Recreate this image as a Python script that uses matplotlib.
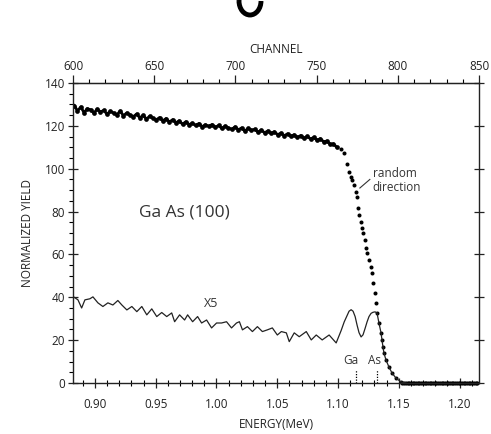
import numpy as np
import matplotlib
matplotlib.use("Agg")
import matplotlib.pyplot as plt
from matplotlib.patches import Arc
from matplotlib.ticker import MultipleLocator, FormatStrFormatter

# ---------------- data ----------------
# random direction spectrum, plateau region (every 2 channels, 0.883 .. 1.099 MeV)
random_plateau_yield = [
    129.5, 127.0, 128.8, 126.2, 128.0, 127.5, 126.0,
    127.8, 126.5, 127.2, 125.5, 126.8, 126.0,
    125.2, 126.9, 124.8, 126.0, 125.1, 124.3,
    125.5, 123.8, 124.9, 123.2, 124.5, 123.6,
    122.8, 123.9, 122.4, 123.4, 121.8, 122.9,
    121.5, 122.3, 120.8, 121.9, 120.6, 121.2,
    120.2, 121.1, 119.6, 120.5, 119.8, 120.6,
    119.3, 120.2, 118.8, 119.9, 119.0, 118.4,
    119.5, 118.2, 119.0, 117.6, 118.8, 117.9,
    118.4, 117.1, 118.0, 116.8, 117.6, 116.5,
    117.2, 115.9, 116.6, 115.4, 116.3, 115.2,
    115.8, 114.6, 115.5, 114.2, 115.1, 113.9,
    114.6, 113.3, 114.0, 112.6, 112.9, 111.4, 111.6, 110.0,
]
plateau_e_start, plateau_e_end = 0.883, 1.099

# random direction spectrum, edge region
random_edge_energy = [
    1.1025, 1.1050, 1.1075, 1.1091, 1.1108, 1.1116, 1.1132, 1.1149, 1.1157,
    1.1165, 1.1173, 1.1190, 1.1198, 1.1206, 1.1223, 1.1231, 1.1239, 1.1255,
    1.1272, 1.1280, 1.1288, 1.1305, 1.1313, 1.1321, 1.1337, 1.1354, 1.1362,
    1.1370, 1.1378, 1.1395, 1.1419, 1.1444, 1.1477, 1.1518,
]
random_edge_yield = [
    109.0, 107.5, 102.0, 98.6, 96.3, 94.9, 92.5, 89.3, 86.9,
    81.8, 78.5, 75.2, 72.4, 70.1, 66.8, 63.1, 60.7, 57.5,
    54.2, 51.4, 46.7, 42.1, 37.4, 32.7, 28.0, 23.4, 20.1,
    16.8, 14.0, 10.7, 7.5, 4.7, 2.3, 0.5,
]
# background region above the edge (zero yield)
zero_e_start, zero_e_end = 1.153, 1.215

# aligned <100> spectrum (x5)
aligned_energy = [
    0.8822, 0.8861, 0.8891, 0.8918, 0.8959, 0.8984, 0.9025, 0.9066, 0.9107,
    0.9148, 0.9189, 0.9222, 0.9263, 0.9304, 0.9345, 0.9386, 0.9427, 0.9468,
    0.9509, 0.9550, 0.9591, 0.9632, 0.9656, 0.9697, 0.9738, 0.9763, 0.9804,
    0.9845, 0.9878, 0.9919, 0.9960, 1.0001, 1.0042, 1.0083, 1.0124, 1.0165,
    1.0189, 1.0214, 1.0255, 1.0296, 1.0337, 1.0378, 1.0419, 1.0460, 1.0501,
    1.0534, 1.0575, 1.0599, 1.0640, 1.0681, 1.0739, 1.0780, 1.0821, 1.0870,
    1.0927, 1.0985, 1.1026, 1.1051, 1.1075, 1.1091, 1.1108, 1.1124, 1.1141,
    1.1157, 1.1173, 1.1190, 1.1206, 1.1223, 1.1239, 1.1255, 1.1272, 1.1288,
    1.1305, 1.1321, 1.1337, 1.1354, 1.1362, 1.1370, 1.1378, 1.1395, 1.1419,
    1.1444, 1.1477, 1.1518, 1.1560,
]
aligned_yield = [
    40.3, 38.8, 35.0, 38.8, 39.3, 40.2, 37.4, 35.7, 37.4,
    36.4, 38.5, 36.4, 34.1, 35.7, 33.3, 35.7, 31.8, 34.6,
    31.0, 32.9, 31.0, 32.7, 28.6, 31.8, 29.4, 31.8, 28.6,
    31.0, 28.0, 29.4, 25.7, 28.0, 28.0, 28.6, 25.7, 28.0,
    28.6, 24.8, 26.3, 24.0, 26.3, 24.0, 24.8, 25.7, 22.4,
    24.0, 23.4, 19.3, 23.4, 21.6, 24.0, 20.1, 22.4, 20.1,
    22.4, 18.7, 24.5, 28.5, 31.5, 33.5, 34.2, 33.5, 31.0,
    27.0, 23.5, 21.5, 22.5, 25.5, 28.5, 31.0, 32.5, 33.0,
    33.2, 32.7, 28.0, 23.4, 20.1, 16.8, 14.0, 10.7, 7.5,
    4.7, 2.3, 0.5, 0.0,
]

x_ticks_energy = [0.90, 0.95, 1.00, 1.05, 1.10, 1.15, 1.20]
y_ticks = [0, 20, 40, 60, 80, 100, 120, 140]
channel_ticks = [600, 650, 700, 750, 800, 850]
marker_energies = {"Ga": 1.1149, "As": 1.1320}
marker_label_energies = {"Ga": 1.1110, "As": 1.1300}

E_MIN, E_MAX = 0.882, 1.216
CH_MIN, CH_MAX = 600, 850

# ---------------- figure ----------------
plt.rcParams["font.family"] = ["Open Sans", "DejaVu Sans"]
fig = plt.figure(figsize=(4.91, 4.34), dpi=100)
ax = fig.add_axes([73 / 491, 51 / 434, 406 / 491, 300 / 434])

plateau_e = np.linspace(plateau_e_start, plateau_e_end, len(random_plateau_yield))
zero_e = np.arange(zero_e_start, zero_e_end, 0.0014)

ax.plot(plateau_e, random_plateau_yield, "-o", color="black", lw=2.0, ms=3.4, mew=0)
ax.plot(random_edge_energy, random_edge_yield, "o", color="black", ms=2.9, mew=0)
ax.plot(zero_e, np.zeros_like(zero_e), "o", color="black", ms=3.0, mew=0, clip_on=False)
ax.plot(aligned_energy, aligned_yield, "-", color="#222222", lw=0.9)

for name, e in marker_energies.items():
    ax.plot([e, e], [0, 6], ls=(0, (1, 1.2)), color="black", lw=0.9)
    ax.text(marker_label_energies[name], 7.5, name, ha="center", va="bottom",
            fontsize=8.5, color="#333333")

ax.text(0.974, 79.5, "Ga As (100)", fontsize=12.5, ha="center", va="center", color="#333333")
ax.text(0.9955, 37.0, "X5", fontsize=9, ha="center", va="center", color="#333333")
ax.text(1.1285, 94.5, "random\ndirection", fontsize=8.5, ha="left", va="center",
        color="#333333", linespacing=1.05)
ax.plot([1.1180, 1.1262], [91.0, 95.0], color="#333333", lw=0.8)

ax.set_xlim(E_MIN, E_MAX)
ax.set_ylim(0, 140)
ax.set_xticks(x_ticks_energy)
ax.xaxis.set_major_formatter(FormatStrFormatter("%.2f"))
ax.xaxis.set_minor_locator(MultipleLocator(0.01))
ax.set_yticks(y_ticks)
ax.yaxis.set_minor_locator(MultipleLocator(5))
ax.tick_params(axis="x", which="major", direction="inout", length=7, width=0.9,
               labelsize=8.5, pad=7, colors="#222222")
ax.tick_params(axis="x", which="minor", direction="inout", length=4, width=0.8)
ax.tick_params(axis="y", which="major", direction="inout", length=7, width=0.9,
               labelsize=8.5, pad=2, colors="#222222", right=True)
ax.tick_params(axis="y", which="minor", direction="out", length=3, width=0.8)
for s in ax.spines.values():
    s.set_linewidth(1.0)
    s.set_color("#222222")

ax.set_xlabel("ENERGY(MeV)", fontsize=8.5, labelpad=5, color="#222222")
ax.set_ylabel("NORMALIZED YIELD", fontsize=8.5, labelpad=8, color="#222222")


def e2ch(e):
    return CH_MIN + (np.asarray(e) - E_MIN) / (E_MAX - E_MIN) * (CH_MAX - CH_MIN)


def ch2e(c):
    return E_MIN + (np.asarray(c) - CH_MIN) / (CH_MAX - CH_MIN) * (E_MAX - E_MIN)


top = ax.secondary_xaxis("top", functions=(e2ch, ch2e))
top.set_xticks(channel_ticks)
top.xaxis.set_minor_locator(MultipleLocator(10))
top.tick_params(which="major", direction="out", length=6, width=0.9, labelsize=8.5,
                pad=1, colors="#222222")
top.tick_params(which="minor", direction="out", length=3, width=0.8)
top.set_xlabel("CHANNEL", fontsize=8.5, labelpad=5, color="#222222")

# cut-off lettering fragment at the top edge of the scan (drawn as a stroke)
frag = Arc((250 / 491, 1 - 1 / 434), 22 / 491, 28 / 434, theta1=180, theta2=360,
           transform=fig.transFigure, color="black", lw=3.5)
fig.add_artist(frag)
frag2 = Arc((250 / 491, 1 - 1 / 434), 22 / 491, 28 / 434, theta1=110, theta2=180,
            transform=fig.transFigure, color="black", lw=3.5)
fig.add_artist(frag2)

fig.savefig("out.png", dpi=100)
